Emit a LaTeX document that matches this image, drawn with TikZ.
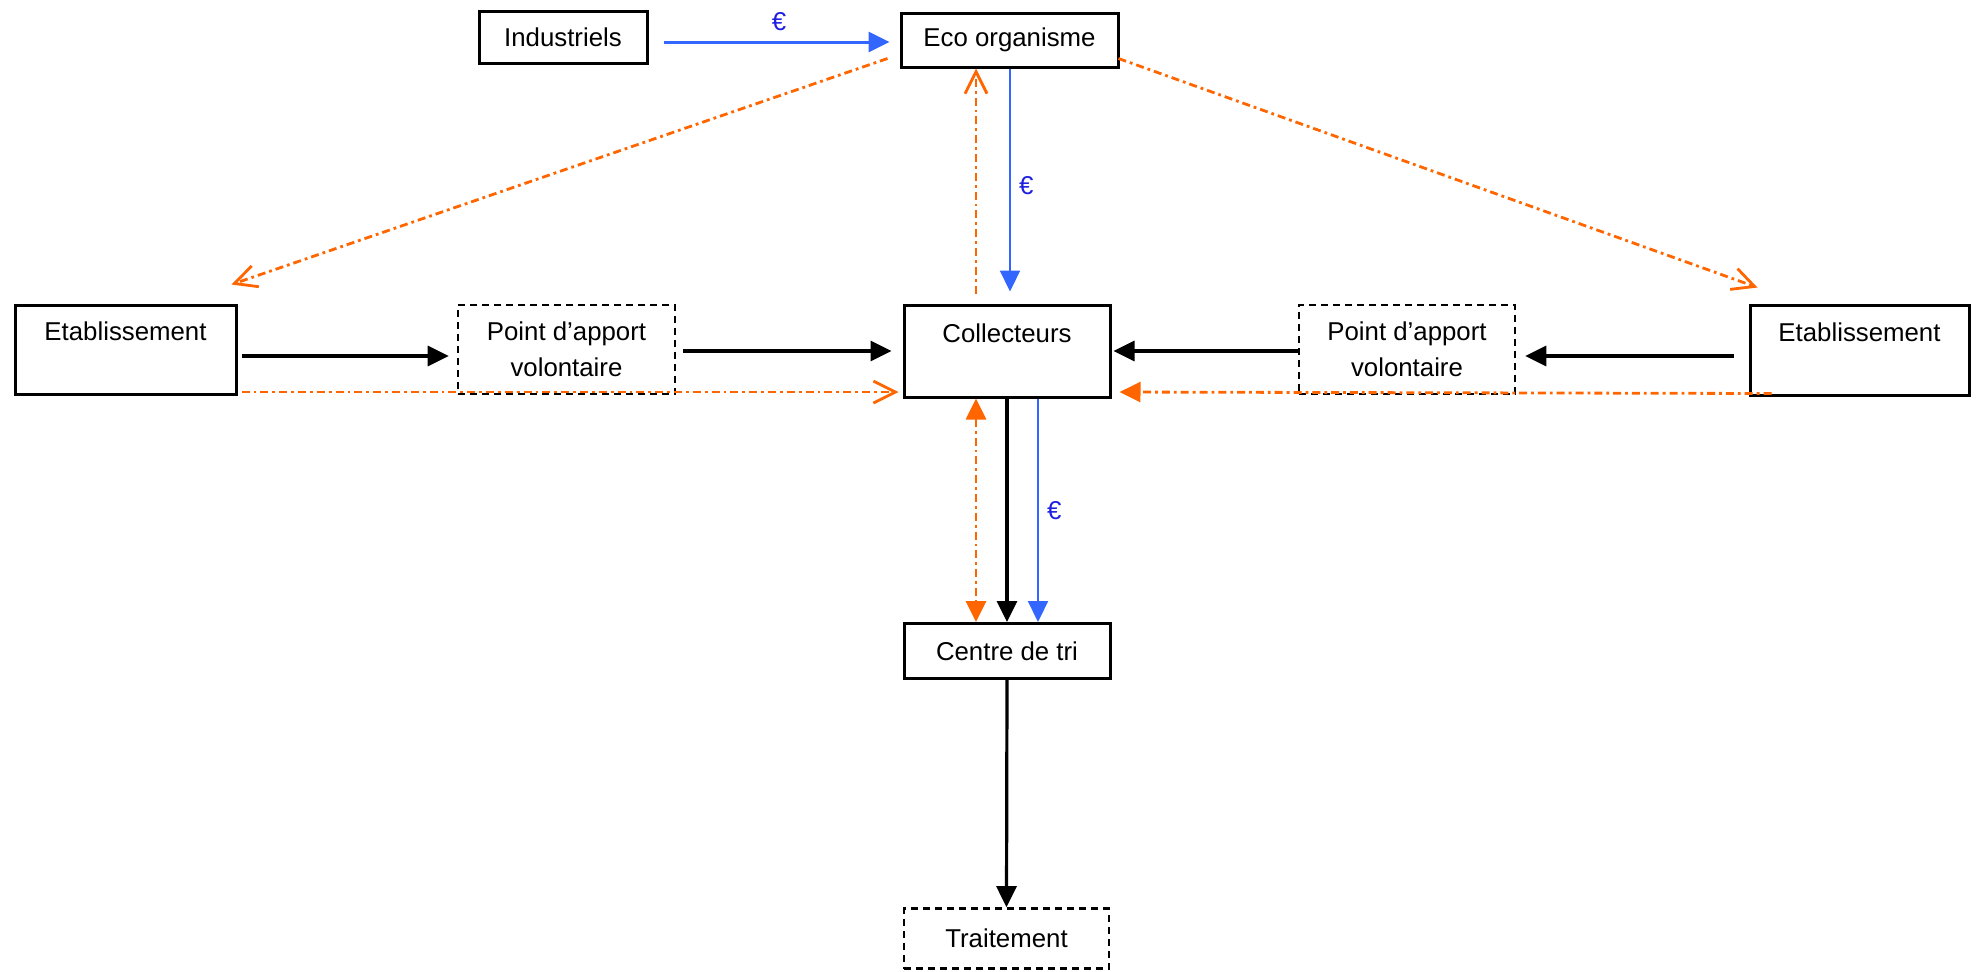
\documentclass[tikz,border=0pt]{standalone}
\usepackage{fontspec}
\setmainfont{Liberation Sans}
\usetikzlibrary{arrows.meta,calc}
\definecolor{orng}{HTML}{FF6600}
\definecolor{blu}{HTML}{3366FF}
\definecolor{eur}{HTML}{1F1FE0}
\begin{document}
\begin{tikzpicture}[x=0.5pt,y=-0.5pt,
  box/.style={draw=black,line width=1.5pt,inner sep=0pt,align=center,font=\fontsize{12.9}{18}\selectfont},
  dbox/.style={box,line width=1.3pt,dash pattern=on 3.5pt off 2.5pt},
  blk/.style={draw=black,line width=1.6pt,-{Triangle[length=10.5pt,width=10pt]}},
  bluarr/.style={draw=blu,line width=1.1pt,-{Triangle[length=10.5pt,width=10pt]}},
  dashdot/.style={draw=orng,line width=1.4pt,dash pattern=on 4pt off 2pt on 1.4pt off 2pt},
  oropen/.style={dashdot,-{Straight Barb[length=11pt,width=11pt]}},
  orfill/.style={dashdot,-{Triangle[length=10.5pt,width=10pt]}},
  orboth/.style={dashdot,{Triangle[length=10.5pt,width=10pt]}-{Triangle[length=10.5pt,width=10pt]}},
  euro/.style={text=eur,inner sep=0pt,font=\fontsize{12.9}{15}\selectfont}
]
\useasboundingbox (0,0) rectangle (1978,971);

\node[box,minimum width=84pt,minimum height=26pt] (ind) at (563,37) {Industriels};
\node[box,minimum width=108.5pt,minimum height=27pt] (eco) at (1009.5,40) {Eco organisme};
\node[box,minimum width=110.5pt,minimum height=44.5pt] (etabL) at (125.5,349.5) {Etablissement\\\phantom{volontaire}};
\node[dbox,minimum width=108.5pt,minimum height=44.5pt] (pavL) at (566.5,349.5) {Point d’apport\\volontaire};
\node[box,minimum width=103pt,minimum height=46pt] (coll) at (1007,351) {Collecteurs\\\phantom{volontaire}};
\node[dbox,minimum width=108pt,minimum height=44.5pt] (pavR) at (1407,349.5) {Point d’apport\\volontaire};
\node[box,minimum width=109.5pt,minimum height=45pt] (etabR) at (1859.5,350) {Etablissement\\\phantom{volontaire}};
\node[box,minimum width=103pt,minimum height=27.5pt] (tri) at (1007,651) {Centre de tri};
\node[dbox,minimum width=102.5pt,minimum height=30pt] (trait) at (1006.5,938.5) {Traitement};

% Industriels -> Eco organisme
\draw[bluarr,line width=1.5pt,shorten <=7.5pt,shorten >=5pt] (ind.east |- 0,42) -- node[euro,pos=0.52,above=5pt] {€} (eco.west |- 0,42);
% Eco organisme -> Collecteurs
\draw[bluarr,shorten >=6pt] (eco.south -| 1010,0) -- node[euro,right=4pt] {€} (coll.north -| 1010,0);
% Collecteurs -> Eco organisme
\draw[oropen,shorten <=5pt] (coll.north -| 976,0) -- (eco.south -| 976,0);
% diagonals
\draw[oropen] ($(eco.south west)+(-12,-10)$) -- ($(etabL.north east)+(-6,-19)$);
\draw[oropen] ($(eco.south east)+(-1,-10)$) -- ($(etabR.north west)+(9,-16)$);
% left chain
\draw[blk,shorten <=2pt,shorten >=4pt] (etabL.east |- 0,356) -- (pavL.west |- 0,356);
\draw[blk,shorten <=3.5pt,shorten >=5.5pt] (pavL.east |- 0,351) -- (coll.west |- 0,351);
\draw[oropen,shorten <=2pt,shorten >=2pt] (etabL.east |- 0,392) -- (coll.west |- 0,392);
% right chain
\draw[blk,shorten >=1pt] (pavR.west |- 0,351) -- (coll.east |- 0,351);
\draw[blk,shorten <=7.5pt,shorten >=4.5pt] (etabR.west |- 0,356) -- (pavR.east |- 0,356);
\draw[orfill,shorten >=4pt] ($(etabR.south west)+(23,-3)$) -- (coll.east |- 0,392);
% Collecteurs -> Centre de tri
\draw[orboth] (coll.south -| 976,0) -- (tri.north -| 976,0);
\draw[blk] (coll.south) -- (tri.north);
\draw[bluarr] (coll.south -| 1038,0) -- node[euro,right=4pt] {€} (tri.north -| 1038,0);
% Centre de tri -> Traitement
\draw[blk] (tri.south) -- (trait.north);
\end{tikzpicture}
\end{document}
